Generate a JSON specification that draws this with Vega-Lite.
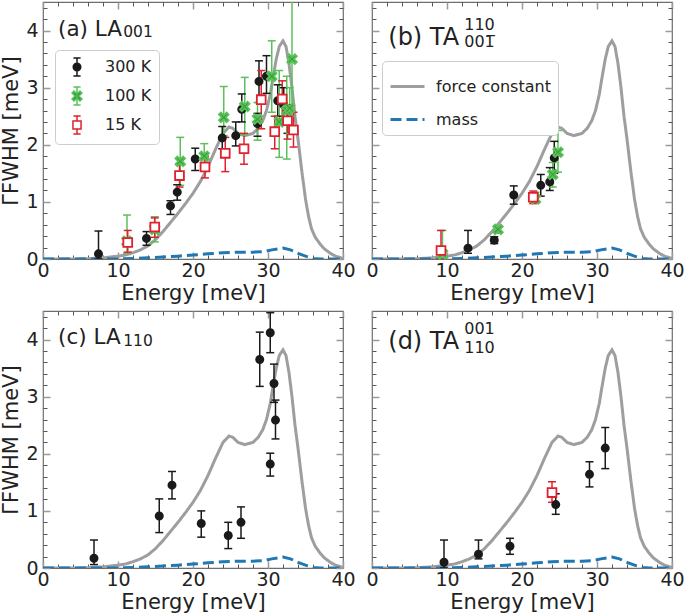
{
  "$schema": "https://vega.github.io/schema/vega-lite/v6.json",
  "padding": {"left": 0, "top": 0, "right": 0, "bottom": 0},
  "columns": 2,
  "spacing": {"row": 52, "column": 29},
  "bounds": "flush",
  "config": {
    "font": "DejaVu Sans",
    "view": {"stroke": "#6e6e6e", "strokeWidth": 1.2},
    "axis": {"grid": false, "domain": false, "labelFont": "DejaVu Sans", "labelFontSize": 19, "labelColor": "#222222", "titleFont": "DejaVu Sans", "titleFontSize": 21, "titleFontWeight": "normal", "titleColor": "#222222", "labelFlush": false, "labelOverlap": false, "labelBound": false},
    "legend": {"labelFont": "DejaVu Sans", "labelColor": "#222222"}
  },
  "resolve": {
    "scale": {"color": "independent", "fill": "independent", "stroke": "independent", "shape": "independent", "strokeDash": "independent"},
    "legend": {"color": "independent", "fill": "independent", "stroke": "independent", "shape": "independent", "strokeDash": "independent"}
  },
  "datasets": {
    "curve": [
      {"E": 0, "G": 0.0, "model": "force constant"},
      {"E": 4, "G": 0.0, "model": "force constant"},
      {"E": 6, "G": 0.005, "model": "force constant"},
      {"E": 8, "G": 0.02, "model": "force constant"},
      {"E": 10, "G": 0.05, "model": "force constant"},
      {"E": 11, "G": 0.07, "model": "force constant"},
      {"E": 12, "G": 0.11, "model": "force constant"},
      {"E": 13, "G": 0.16, "model": "force constant"},
      {"E": 14, "G": 0.23, "model": "force constant"},
      {"E": 15, "G": 0.34, "model": "force constant"},
      {"E": 16, "G": 0.48, "model": "force constant"},
      {"E": 17, "G": 0.64, "model": "force constant"},
      {"E": 18, "G": 0.8, "model": "force constant"},
      {"E": 19, "G": 0.97, "model": "force constant"},
      {"E": 20, "G": 1.15, "model": "force constant"},
      {"E": 21, "G": 1.36, "model": "force constant"},
      {"E": 22, "G": 1.62, "model": "force constant"},
      {"E": 23, "G": 1.92, "model": "force constant"},
      {"E": 24, "G": 2.2, "model": "force constant"},
      {"E": 24.8, "G": 2.31, "model": "force constant"},
      {"E": 25.3, "G": 2.29, "model": "force constant"},
      {"E": 26, "G": 2.2, "model": "force constant"},
      {"E": 26.9, "G": 2.16, "model": "force constant"},
      {"E": 28, "G": 2.2, "model": "force constant"},
      {"E": 28.7, "G": 2.29, "model": "force constant"},
      {"E": 29.3, "G": 2.42, "model": "force constant"},
      {"E": 29.8, "G": 2.6, "model": "force constant"},
      {"E": 30.3, "G": 2.88, "model": "force constant"},
      {"E": 30.7, "G": 3.2, "model": "force constant"},
      {"E": 31.1, "G": 3.5, "model": "force constant"},
      {"E": 31.5, "G": 3.72, "model": "force constant"},
      {"E": 32, "G": 3.82, "model": "force constant"},
      {"E": 32.4, "G": 3.72, "model": "force constant"},
      {"E": 32.8, "G": 3.42, "model": "force constant"},
      {"E": 33.2, "G": 3.0, "model": "force constant"},
      {"E": 33.6, "G": 2.5, "model": "force constant"},
      {"E": 34, "G": 2.1, "model": "force constant"},
      {"E": 34.5, "G": 1.55, "model": "force constant"},
      {"E": 35, "G": 1.05, "model": "force constant"},
      {"E": 35.4, "G": 0.75, "model": "force constant"},
      {"E": 35.8, "G": 0.53, "model": "force constant"},
      {"E": 36.3, "G": 0.38, "model": "force constant"},
      {"E": 36.9, "G": 0.27, "model": "force constant"},
      {"E": 37.5, "G": 0.18, "model": "force constant"},
      {"E": 38.3, "G": 0.1, "model": "force constant"},
      {"E": 39, "G": 0.05, "model": "force constant"},
      {"E": 40, "G": 0.01, "model": "force constant"},
      {"E": 0, "G": 0.0, "model": "mass"},
      {"E": 10, "G": 0.0, "model": "mass"},
      {"E": 12, "G": 0.01, "model": "mass"},
      {"E": 14, "G": 0.02, "model": "mass"},
      {"E": 16, "G": 0.035, "model": "mass"},
      {"E": 18, "G": 0.05, "model": "mass"},
      {"E": 20, "G": 0.07, "model": "mass"},
      {"E": 22, "G": 0.09, "model": "mass"},
      {"E": 24, "G": 0.11, "model": "mass"},
      {"E": 26, "G": 0.12, "model": "mass"},
      {"E": 28, "G": 0.12, "model": "mass"},
      {"E": 29.5, "G": 0.13, "model": "mass"},
      {"E": 30.5, "G": 0.16, "model": "mass"},
      {"E": 32, "G": 0.19, "model": "mass"},
      {"E": 33, "G": 0.16, "model": "mass"},
      {"E": 34, "G": 0.1, "model": "mass"},
      {"E": 35, "G": 0.05, "model": "mass"},
      {"E": 36, "G": 0.01, "model": "mass"},
      {"E": 37, "G": 0.0, "model": "mass"},
      {"E": 40, "G": 0.0, "model": "mass"}
    ],
    "ptsA": [
      {"E": 7.4, "G": 0.09, "lo": 0.0, "hi": 0.49, "T": "300 K"},
      {"E": 13.8, "G": 0.36, "lo": 0.24, "hi": 0.48, "T": "300 K"},
      {"E": 17.0, "G": 0.93, "lo": 0.78, "hi": 1.02, "T": "300 K"},
      {"E": 17.9, "G": 1.17, "lo": 1.03, "hi": 1.3, "T": "300 K"},
      {"E": 20.3, "G": 1.75, "lo": 1.55, "hi": 1.94, "T": "300 K"},
      {"E": 23.9, "G": 2.12, "lo": 1.93, "hi": 2.32, "T": "300 K"},
      {"E": 25.7, "G": 2.16, "lo": 1.98, "hi": 2.4, "T": "300 K"},
      {"E": 26.5, "G": 2.62, "lo": 2.4, "hi": 2.89, "T": "300 K"},
      {"E": 28.6, "G": 2.37, "lo": 2.15, "hi": 2.55, "T": "300 K"},
      {"E": 28.8, "G": 3.11, "lo": 2.74, "hi": 3.47, "T": "300 K"},
      {"E": 29.8, "G": 3.2, "lo": 2.9, "hi": 3.56, "T": "300 K"},
      {"E": 31.3, "G": 2.77, "lo": 2.5, "hi": 3.05, "T": "300 K"},
      {"E": 32.1, "G": 2.7, "lo": 2.4, "hi": 3.0, "T": "300 K"},
      {"E": 32.6, "G": 2.42, "lo": 2.2, "hi": 2.7, "T": "300 K"},
      {"E": 11.2, "G": 0.31, "lo": 0.1, "hi": 0.77, "T": "100 K"},
      {"E": 14.9, "G": 0.52, "lo": 0.3, "hi": 0.74, "T": "100 K"},
      {"E": 18.3, "G": 1.71, "lo": 1.29, "hi": 2.13, "T": "100 K"},
      {"E": 21.5, "G": 1.8, "lo": 1.58, "hi": 2.02, "T": "100 K"},
      {"E": 24.1, "G": 2.48, "lo": 2.16, "hi": 3.02, "T": "100 K"},
      {"E": 26.9, "G": 2.67, "lo": 2.17, "hi": 3.18, "T": "100 K"},
      {"E": 28.6, "G": 2.45, "lo": 2.08, "hi": 2.74, "T": "100 K"},
      {"E": 30.5, "G": 3.2, "lo": 2.57, "hi": 3.82, "T": "100 K"},
      {"E": 31.5, "G": 2.4, "lo": 1.78, "hi": 3.3, "T": "100 K"},
      {"E": 32.5, "G": 2.6, "lo": 1.75, "hi": 3.2, "T": "100 K"},
      {"E": 32.9, "G": 2.64, "lo": 2.2, "hi": 3.0, "T": "100 K"},
      {"E": 33.2, "G": 3.5, "lo": 2.5, "hi": 4.8, "T": "100 K"},
      {"E": 11.3, "G": 0.29, "lo": 0.12, "hi": 0.5, "T": "15 K"},
      {"E": 14.9, "G": 0.56, "lo": 0.38, "hi": 0.72, "T": "15 K"},
      {"E": 18.2, "G": 1.46, "lo": 1.26, "hi": 1.67, "T": "15 K"},
      {"E": 21.6, "G": 1.61, "lo": 1.42, "hi": 1.8, "T": "15 K"},
      {"E": 24.3, "G": 1.85, "lo": 1.53, "hi": 2.13, "T": "15 K"},
      {"E": 26.8, "G": 1.93, "lo": 1.66, "hi": 2.2, "T": "15 K"},
      {"E": 29.1, "G": 2.79, "lo": 2.28, "hi": 3.3, "T": "15 K"},
      {"E": 30.9, "G": 2.23, "lo": 1.93, "hi": 2.5, "T": "15 K"},
      {"E": 31.9, "G": 2.8, "lo": 2.45, "hi": 3.12, "T": "15 K"},
      {"E": 32.6, "G": 2.42, "lo": 2.1, "hi": 2.7, "T": "15 K"},
      {"E": 33.4, "G": 2.26, "lo": 1.96, "hi": 2.57, "T": "15 K"}
    ],
    "ptsB": [
      {"E": 12.8, "G": 0.19, "lo": 0.1, "hi": 0.5, "T": "300 K"},
      {"E": 16.3, "G": 0.33, "lo": 0.27, "hi": 0.39, "T": "300 K"},
      {"E": 18.9, "G": 1.12, "lo": 0.96, "hi": 1.28, "T": "300 K"},
      {"E": 22.5, "G": 1.29, "lo": 1.1, "hi": 1.48, "T": "300 K"},
      {"E": 23.7, "G": 1.35, "lo": 1.2, "hi": 1.6, "T": "300 K"},
      {"E": 24.3, "G": 1.77, "lo": 1.5, "hi": 2.06, "T": "300 K"},
      {"E": 9.4, "G": 0.09, "lo": 0.0, "hi": 0.5, "T": "100 K"},
      {"E": 16.8, "G": 0.52, "lo": 0.45, "hi": 0.58, "T": "100 K"},
      {"E": 21.8, "G": 1.05, "lo": 0.98, "hi": 1.17, "T": "100 K"},
      {"E": 24.1, "G": 1.48, "lo": 1.26, "hi": 1.69, "T": "100 K"},
      {"E": 24.8, "G": 1.87, "lo": 1.52, "hi": 2.25, "T": "100 K"},
      {"E": 9.2, "G": 0.15, "lo": 0.0, "hi": 0.5, "T": "15 K"},
      {"E": 21.5, "G": 1.08, "lo": 0.97, "hi": 1.19, "T": "15 K"}
    ],
    "ptsC": [
      {"E": 6.8, "G": 0.17, "lo": 0.06, "hi": 0.49, "T": "300 K"},
      {"E": 15.5, "G": 0.91, "lo": 0.62, "hi": 1.21, "T": "300 K"},
      {"E": 17.2, "G": 1.45, "lo": 1.21, "hi": 1.69, "T": "300 K"},
      {"E": 21.1, "G": 0.78, "lo": 0.54, "hi": 1.0, "T": "300 K"},
      {"E": 24.7, "G": 0.57, "lo": 0.34, "hi": 0.8, "T": "300 K"},
      {"E": 26.4, "G": 0.8, "lo": 0.52, "hi": 1.07, "T": "300 K"},
      {"E": 28.9, "G": 3.65, "lo": 3.18, "hi": 4.13, "T": "300 K"},
      {"E": 30.3, "G": 4.12, "lo": 3.77, "hi": 4.47, "T": "300 K"},
      {"E": 30.3, "G": 1.82, "lo": 1.61, "hi": 2.01, "T": "300 K"},
      {"E": 30.8, "G": 3.23, "lo": 2.9, "hi": 3.57, "T": "300 K"},
      {"E": 31.0, "G": 2.59, "lo": 2.26, "hi": 2.94, "T": "300 K"}
    ],
    "ptsD": [
      {"E": 9.6, "G": 0.1, "lo": 0.0, "hi": 0.49, "T": "300 K"},
      {"E": 14.2, "G": 0.24, "lo": 0.16, "hi": 0.49, "T": "300 K"},
      {"E": 18.4, "G": 0.38, "lo": 0.24, "hi": 0.52, "T": "300 K"},
      {"E": 24.5, "G": 1.11, "lo": 0.94, "hi": 1.3, "T": "300 K"},
      {"E": 29.0, "G": 1.64, "lo": 1.42, "hi": 1.86, "T": "300 K"},
      {"E": 31.1, "G": 2.1, "lo": 1.74, "hi": 2.46, "T": "300 K"},
      {"E": 24.0, "G": 1.32, "lo": 1.15, "hi": 1.51, "T": "15 K"}
    ]
  },
  "concat": [
    {
      "width": 300, "height": 257,
      "resolve": {"axis": {"x": "independent", "y": "independent"}, "scale": {"color": "independent", "fill": "independent", "stroke": "independent", "shape": "independent"}},
      "layer": [
        {
          "data": {"name": "curve"},
          "mark": {"type": "line", "strokeWidth": 3, "clip": true},
          "encoding": {
            "x": {"field": "E", "type": "quantitative", "scale": {"domain": [0, 40], "nice": false}, "axis": {"orient": "bottom", "values": [0, 10, 20, 30, 40], "tickSize": -7, "tickWidth": 1.5, "tickColor": "#9a9a9a", "labelPadding": 9, "title": "Energy [meV]", "titlePadding": 2}},
            "y": {"field": "G", "type": "quantitative", "scale": {"domain": [0, 4.5], "nice": false}, "axis": {"orient": "left", "values": [0, 1, 2, 3, 4], "tickSize": -7, "tickWidth": 1.5, "tickColor": "#9a9a9a", "labelPadding": 12, "title": "ΓFWHM [meV]", "titlePadding": 4}},
            "color": {"field": "model", "type": "nominal", "scale": {"domain": ["force constant", "mass"], "range": ["#9e9e9e", "#1f77b4"]}, "legend": null},
            "strokeDash": {"field": "model", "type": "nominal", "scale": {"domain": ["force constant", "mass"], "range": [[1, 0], [11, 5]]}, "legend": null}
          }
        },
        {
          "data": {"name": "ptsA"},
          "transform": [{"filter": "datum.E < 0"}],
          "mark": {"type": "point", "filled": true, "opacity": 1, "size": 324, "strokeWidth": 1.5},
          "encoding": {
            "x": {"field": "E", "type": "quantitative", "scale": {"domain": [0, 40], "nice": false}, "axis": null},
            "y": {"field": "G", "type": "quantitative", "scale": {"domain": [0, 4.5], "nice": false}, "axis": null},
            "fill": {"field": "T", "type": "nominal", "scale": {"domain": ["300 K", "100 K", "15 K"], "range": ["#1a1a1a", "#2ca02c", "#ffffff"]},
              "legend": {"title": null, "orient": "none", "legendX": 12, "legendY": 48, "direction": "vertical", "padding": 7, "strokeColor": "#cccccc", "fillColor": "#ffffff", "cornerRadius": 4, "labelFontSize": 16, "labelOffset": 18, "rowPadding": 5, "symbolOffset": 5, "symbolSize": 324, "symbolStrokeWidth": 1.5}},
            "stroke": {"field": "T", "type": "nominal", "scale": {"domain": ["300 K", "100 K", "15 K"], "range": ["#1a1a1a", "#5cc05c", "#e0202e"]},
              "legend": {"title": null, "orient": "none", "legendX": 12, "legendY": 48, "direction": "vertical", "padding": 7, "strokeColor": "#cccccc", "fillColor": "#ffffff", "cornerRadius": 4, "labelFontSize": 16, "labelOffset": 18, "rowPadding": 5, "symbolOffset": 5, "symbolSize": 324, "symbolStrokeWidth": 1.5}},
            "shape": {"field": "T", "type": "nominal", "scale": {"domain": ["300 K", "100 K", "15 K"], "range": ["M0,-1L0,1M-0.4,-1L0.4,-1M-0.4,1L0.4,1M0.42,0A0.42,0.42,0,1,1,-0.42,0A0.42,0.42,0,1,1,0.42,0Z", "M0,-1L0,1M-0.4,-1L0.4,-1M-0.4,1L0.4,1M-0.55,-0.33L-0.33,-0.55L0,-0.22L0.33,-0.55L0.55,-0.33L0.22,0L0.55,0.33L0.33,0.55L0,0.22L-0.33,0.55L-0.55,0.33L-0.22,0Z", "M0,-1L0,-0.45M0,0.45L0,1M-0.4,-1L0.4,-1M-0.4,1L0.4,1M-0.45,-0.45L0.45,-0.45L0.45,0.45L-0.45,0.45Z"]},
              "legend": {"title": null, "orient": "none", "legendX": 12, "legendY": 48, "direction": "vertical", "padding": 7, "strokeColor": "#cccccc", "fillColor": "#ffffff", "cornerRadius": 4, "labelFontSize": 16, "labelOffset": 18, "rowPadding": 5, "symbolOffset": 5, "symbolSize": 324, "symbolStrokeWidth": 1.5}}
          }
        },
        {
          "data": {"name": "ptsA"},
          "mark": {"type": "rule", "strokeWidth": 1.5, "clip": true},
          "encoding": {
            "x": {"field": "E", "type": "quantitative", "scale": {"domain": [0, 40], "nice": false}, "axis": null},
            "y": {"field": "lo", "type": "quantitative", "scale": {"domain": [0, 4.5], "nice": false}, "axis": null},
            "y2": {"field": "hi"},
            "color": {"field": "T", "type": "nominal", "scale": {"domain": ["300 K", "100 K", "15 K"], "range": ["#1a1a1a", "#5cc05c", "#e0202e"]}, "legend": null}
          }
        },
        {
          "data": {"name": "ptsA"},
          "mark": {"type": "point", "shape": "stroke", "size": 64, "filled": false, "opacity": 1, "strokeWidth": 1.5, "clip": true},
          "encoding": {
            "x": {"field": "E", "type": "quantitative", "scale": {"domain": [0, 40], "nice": false}, "axis": null},
            "y": {"field": "lo", "type": "quantitative", "scale": {"domain": [0, 4.5], "nice": false}, "axis": null},
            "color": {"field": "T", "type": "nominal", "scale": {"domain": ["300 K", "100 K", "15 K"], "range": ["#1a1a1a", "#5cc05c", "#e0202e"]}, "legend": null}
          }
        },
        {
          "data": {"name": "ptsA"},
          "mark": {"type": "point", "shape": "stroke", "size": 64, "filled": false, "opacity": 1, "strokeWidth": 1.5, "clip": true},
          "encoding": {
            "x": {"field": "E", "type": "quantitative", "scale": {"domain": [0, 40], "nice": false}, "axis": null},
            "y": {"field": "hi", "type": "quantitative", "scale": {"domain": [0, 4.5], "nice": false}, "axis": null},
            "color": {"field": "T", "type": "nominal", "scale": {"domain": ["300 K", "100 K", "15 K"], "range": ["#1a1a1a", "#5cc05c", "#e0202e"]}, "legend": null}
          }
        },
        {
          "data": {"name": "ptsA"},
          "mark": {"type": "point", "filled": true, "opacity": 1, "size": 64, "strokeWidth": 1.8},
          "encoding": {
            "x": {"field": "E", "type": "quantitative", "scale": {"domain": [0, 40], "nice": false}, "axis": {"orient": "bottom", "values": [2, 4, 6, 8, 12, 14, 16, 18, 22, 24, 26, 28, 32, 34, 36, 38], "tickSize": -4, "tickColor": "#555555", "tickWidth": 1, "labels": false, "title": null}},
            "y": {"field": "G", "type": "quantitative", "scale": {"domain": [0, 4.5], "nice": false}, "axis": {"orient": "left", "values": [0.2, 0.4, 0.6, 0.8, 1.2, 1.4, 1.6, 1.8, 2.2, 2.4, 2.6, 2.8, 3.2, 3.4, 3.6, 3.8, 4.2, 4.4], "tickSize": -4, "tickColor": "#555555", "tickWidth": 1, "labels": false, "title": null}},
            "fill": {"field": "T", "type": "nominal", "scale": {"domain": ["300 K", "100 K", "15 K"], "range": ["#1a1a1a", "#2ca02c", "#ffffff"]}, "legend": null},
            "stroke": {"field": "T", "type": "nominal", "scale": {"domain": ["300 K", "100 K", "15 K"], "range": ["#1a1a1a", "#5cc05c", "#e0202e"]}, "legend": null},
            "shape": {"field": "T", "type": "nominal", "scale": {"domain": ["300 K", "100 K", "15 K"], "range": ["M0.9,0A0.9,0.9,0,1,1,-0.9,0A0.9,0.9,0,1,1,0.9,0Z", "M-1.2,-0.72L-0.72,-1.2L0,-0.48L0.72,-1.2L1.2,-0.72L0.48,0L1.2,0.72L0.72,1.2L0,0.48L-0.72,1.2L-1.2,0.72L-0.48,0Z", "M-1.1,-1.1L1.1,-1.1L1.1,1.1L-1.1,1.1Z"]}, "legend": null}
          }
        },
        {
          "data": {"values": [{"E": 2.0, "G": 3.91, "t": "(a) LA"}]},
          "mark": {"type": "text", "align": "left", "baseline": "alphabetic", "fontSize": 21.5, "color": "#222222"},
          "encoding": {
            "x": {"field": "E", "type": "quantitative", "scale": {"domain": [0, 40], "nice": false}, "axis": {"orient": "top", "values": [0, 10, 20, 30, 40], "tickSize": -7, "tickWidth": 1.5, "tickColor": "#9a9a9a", "labels": false, "title": null}},
            "y": {"field": "G", "type": "quantitative", "scale": {"domain": [0, 4.5], "nice": false}, "axis": {"orient": "right", "values": [0, 1, 2, 3, 4], "tickSize": -7, "tickWidth": 1.5, "tickColor": "#9a9a9a", "labels": false, "title": null}},
            "text": {"field": "t"}
          }
        },
        {
          "data": {"values": [{"E": 10.7, "G": 3.88, "t": "001"}]},
          "mark": {"type": "text", "align": "left", "baseline": "alphabetic", "fontSize": 15.5, "color": "#222222"},
          "encoding": {
            "x": {"field": "E", "type": "quantitative", "scale": {"domain": [0, 40], "nice": false}, "axis": {"orient": "top", "values": [2, 4, 6, 8, 12, 14, 16, 18, 22, 24, 26, 28, 32, 34, 36, 38], "tickSize": -4, "tickColor": "#555555", "tickWidth": 1, "labels": false, "title": null}},
            "y": {"field": "G", "type": "quantitative", "scale": {"domain": [0, 4.5], "nice": false}, "axis": {"orient": "right", "values": [0.2, 0.4, 0.6, 0.8, 1.2, 1.4, 1.6, 1.8, 2.2, 2.4, 2.6, 2.8, 3.2, 3.4, 3.6, 3.8, 4.2, 4.4], "tickSize": -4, "tickColor": "#555555", "tickWidth": 1, "labels": false, "title": null}},
            "text": {"field": "t"}
          }
        }
      ]
    },
    {
      "width": 300, "height": 257,
      "resolve": {"axis": {"x": "independent", "y": "independent"}},
      "layer": [
        {
          "data": {"name": "curve"},
          "mark": {"type": "line", "strokeWidth": 3, "clip": true},
          "encoding": {
            "x": {"field": "E", "type": "quantitative", "scale": {"domain": [0, 40], "nice": false}, "axis": {"orient": "bottom", "values": [0, 10, 20, 30, 40], "tickSize": -7, "tickWidth": 1.5, "tickColor": "#9a9a9a", "labelPadding": 9, "title": "Energy [meV]", "titlePadding": 2}},
            "y": {"field": "G", "type": "quantitative", "scale": {"domain": [0, 4.5], "nice": false}, "axis": {"orient": "left", "values": [0, 1, 2, 3, 4], "tickSize": -7, "tickWidth": 1.5, "tickColor": "#9a9a9a", "labels": false, "title": null}},
            "color": {"field": "model", "type": "nominal", "scale": {"domain": ["force constant", "mass"], "range": ["#9e9e9e", "#1f77b4"]},
              "legend": {"title": null, "orient": "none", "legendX": 10, "legendY": 59, "padding": 7, "strokeColor": "#cccccc", "fillColor": "#ffffff", "cornerRadius": 4, "labelFontSize": 16, "symbolType": "stroke", "symbolSize": 1156, "symbolStrokeWidth": 3, "labelOffset": 10, "rowPadding": 6}},
            "strokeDash": {"field": "model", "type": "nominal", "scale": {"domain": ["force constant", "mass"], "range": [[1, 0], [11, 5]]},
              "legend": {"title": null, "orient": "none", "legendX": 10, "legendY": 59, "padding": 7, "strokeColor": "#cccccc", "fillColor": "#ffffff", "cornerRadius": 4, "labelFontSize": 16, "symbolType": "stroke", "symbolSize": 1156, "symbolStrokeWidth": 3, "labelOffset": 10, "rowPadding": 6}}
          }
        },
        {
          "data": {"name": "ptsB"},
          "mark": {"type": "rule", "strokeWidth": 1.5, "clip": true},
          "encoding": {
            "x": {"field": "E", "type": "quantitative", "scale": {"domain": [0, 40], "nice": false}, "axis": null},
            "y": {"field": "lo", "type": "quantitative", "scale": {"domain": [0, 4.5], "nice": false}, "axis": null},
            "y2": {"field": "hi"},
            "stroke": {"field": "T", "type": "nominal", "scale": {"domain": ["300 K", "100 K", "15 K"], "range": ["#1a1a1a", "#5cc05c", "#e0202e"]}, "legend": null}
          }
        },
        {
          "data": {"name": "ptsB"},
          "mark": {"type": "point", "shape": "stroke", "size": 64, "filled": false, "opacity": 1, "strokeWidth": 1.5, "clip": true},
          "encoding": {
            "x": {"field": "E", "type": "quantitative", "scale": {"domain": [0, 40], "nice": false}, "axis": null},
            "y": {"field": "lo", "type": "quantitative", "scale": {"domain": [0, 4.5], "nice": false}, "axis": null},
            "stroke": {"field": "T", "type": "nominal", "scale": {"domain": ["300 K", "100 K", "15 K"], "range": ["#1a1a1a", "#5cc05c", "#e0202e"]}, "legend": null}
          }
        },
        {
          "data": {"name": "ptsB"},
          "mark": {"type": "point", "shape": "stroke", "size": 64, "filled": false, "opacity": 1, "strokeWidth": 1.5, "clip": true},
          "encoding": {
            "x": {"field": "E", "type": "quantitative", "scale": {"domain": [0, 40], "nice": false}, "axis": null},
            "y": {"field": "hi", "type": "quantitative", "scale": {"domain": [0, 4.5], "nice": false}, "axis": null},
            "stroke": {"field": "T", "type": "nominal", "scale": {"domain": ["300 K", "100 K", "15 K"], "range": ["#1a1a1a", "#5cc05c", "#e0202e"]}, "legend": null}
          }
        },
        {
          "data": {"name": "ptsB"},
          "mark": {"type": "point", "filled": true, "opacity": 1, "size": 64, "strokeWidth": 1.8},
          "encoding": {
            "x": {"field": "E", "type": "quantitative", "scale": {"domain": [0, 40], "nice": false}, "axis": {"orient": "bottom", "values": [2, 4, 6, 8, 12, 14, 16, 18, 22, 24, 26, 28, 32, 34, 36, 38], "tickSize": -4, "tickColor": "#555555", "tickWidth": 1, "labels": false, "title": null}},
            "y": {"field": "G", "type": "quantitative", "scale": {"domain": [0, 4.5], "nice": false}, "axis": {"orient": "left", "values": [0.2, 0.4, 0.6, 0.8, 1.2, 1.4, 1.6, 1.8, 2.2, 2.4, 2.6, 2.8, 3.2, 3.4, 3.6, 3.8, 4.2, 4.4], "tickSize": -4, "tickColor": "#555555", "tickWidth": 1, "labels": false, "title": null}},
            "fill": {"field": "T", "type": "nominal", "scale": {"domain": ["300 K", "100 K", "15 K"], "range": ["#1a1a1a", "#2ca02c", "#ffffff"]}, "legend": null},
            "stroke": {"field": "T", "type": "nominal", "scale": {"domain": ["300 K", "100 K", "15 K"], "range": ["#1a1a1a", "#5cc05c", "#e0202e"]}, "legend": null},
            "shape": {"field": "T", "type": "nominal", "scale": {"domain": ["300 K", "100 K", "15 K"], "range": ["M0.9,0A0.9,0.9,0,1,1,-0.9,0A0.9,0.9,0,1,1,0.9,0Z", "M-1.2,-0.72L-0.72,-1.2L0,-0.48L0.72,-1.2L1.2,-0.72L0.48,0L1.2,0.72L0.72,1.2L0,0.48L-0.72,1.2L-1.2,0.72L-0.48,0Z", "M-1.1,-1.1L1.1,-1.1L1.1,1.1L-1.1,1.1Z"]}, "legend": null}
          }
        },
        {
          "data": {"values": [{"E": 2.17, "G": 3.74, "t": "(b) TA"}]},
          "mark": {"type": "text", "align": "left", "baseline": "alphabetic", "fontSize": 24, "color": "#222222"},
          "encoding": {
            "x": {"field": "E", "type": "quantitative", "scale": {"domain": [0, 40], "nice": false}, "axis": {"orient": "top", "values": [0, 10, 20, 30, 40], "tickSize": -7, "tickWidth": 1.5, "tickColor": "#9a9a9a", "labels": false, "title": null}},
            "y": {"field": "G", "type": "quantitative", "scale": {"domain": [0, 4.5], "nice": false}, "axis": {"orient": "right", "values": [0, 1, 2, 3, 4], "tickSize": -7, "tickWidth": 1.5, "tickColor": "#9a9a9a", "labels": false, "title": null}},
            "text": {"field": "t"}
          }
        },
        {
          "data": {"values": [{"E": 12.3, "G": 4.01, "t": "110"}, {"E": 12.3, "G": 3.71, "t": "001̅"}]},
          "mark": {"type": "text", "align": "left", "baseline": "alphabetic", "fontSize": 16, "color": "#222222"},
          "encoding": {
            "x": {"field": "E", "type": "quantitative", "scale": {"domain": [0, 40], "nice": false}, "axis": {"orient": "top", "values": [2, 4, 6, 8, 12, 14, 16, 18, 22, 24, 26, 28, 32, 34, 36, 38], "tickSize": -4, "tickColor": "#555555", "tickWidth": 1, "labels": false, "title": null}},
            "y": {"field": "G", "type": "quantitative", "scale": {"domain": [0, 4.5], "nice": false}, "axis": {"orient": "right", "values": [0.2, 0.4, 0.6, 0.8, 1.2, 1.4, 1.6, 1.8, 2.2, 2.4, 2.6, 2.8, 3.2, 3.4, 3.6, 3.8, 4.2, 4.4], "tickSize": -4, "tickColor": "#555555", "tickWidth": 1, "labels": false, "title": null}},
            "text": {"field": "t"}
          }
        }
      ]
    },
    {
      "width": 300, "height": 257,
      "resolve": {"axis": {"x": "independent", "y": "independent"}},
      "layer": [
        {
          "data": {"name": "curve"},
          "mark": {"type": "line", "strokeWidth": 3, "clip": true},
          "encoding": {
            "x": {"field": "E", "type": "quantitative", "scale": {"domain": [0, 40], "nice": false}, "axis": {"orient": "bottom", "values": [0, 10, 20, 30, 40], "tickSize": -7, "tickWidth": 1.5, "tickColor": "#9a9a9a", "labelPadding": 9, "title": "Energy [meV]", "titlePadding": 2}},
            "y": {"field": "G", "type": "quantitative", "scale": {"domain": [0, 4.5], "nice": false}, "axis": {"orient": "left", "values": [0, 1, 2, 3, 4], "tickSize": -7, "tickWidth": 1.5, "tickColor": "#9a9a9a", "labelPadding": 12, "title": "ΓFWHM [meV]", "titlePadding": 4}},
            "color": {"field": "model", "type": "nominal", "scale": {"domain": ["force constant", "mass"], "range": ["#9e9e9e", "#1f77b4"]}, "legend": null},
            "strokeDash": {"field": "model", "type": "nominal", "scale": {"domain": ["force constant", "mass"], "range": [[1, 0], [11, 5]]}, "legend": null}
          }
        },
        {
          "data": {"name": "ptsC"},
          "mark": {"type": "rule", "strokeWidth": 1.5, "clip": true},
          "encoding": {
            "x": {"field": "E", "type": "quantitative", "scale": {"domain": [0, 40], "nice": false}, "axis": null},
            "y": {"field": "lo", "type": "quantitative", "scale": {"domain": [0, 4.5], "nice": false}, "axis": null},
            "y2": {"field": "hi"},
            "stroke": {"field": "T", "type": "nominal", "scale": {"domain": ["300 K", "100 K", "15 K"], "range": ["#1a1a1a", "#5cc05c", "#e0202e"]}, "legend": null}
          }
        },
        {
          "data": {"name": "ptsC"},
          "mark": {"type": "point", "shape": "stroke", "size": 64, "filled": false, "opacity": 1, "strokeWidth": 1.5, "clip": true},
          "encoding": {
            "x": {"field": "E", "type": "quantitative", "scale": {"domain": [0, 40], "nice": false}, "axis": null},
            "y": {"field": "lo", "type": "quantitative", "scale": {"domain": [0, 4.5], "nice": false}, "axis": null},
            "stroke": {"field": "T", "type": "nominal", "scale": {"domain": ["300 K", "100 K", "15 K"], "range": ["#1a1a1a", "#5cc05c", "#e0202e"]}, "legend": null}
          }
        },
        {
          "data": {"name": "ptsC"},
          "mark": {"type": "point", "shape": "stroke", "size": 64, "filled": false, "opacity": 1, "strokeWidth": 1.5, "clip": true},
          "encoding": {
            "x": {"field": "E", "type": "quantitative", "scale": {"domain": [0, 40], "nice": false}, "axis": null},
            "y": {"field": "hi", "type": "quantitative", "scale": {"domain": [0, 4.5], "nice": false}, "axis": null},
            "stroke": {"field": "T", "type": "nominal", "scale": {"domain": ["300 K", "100 K", "15 K"], "range": ["#1a1a1a", "#5cc05c", "#e0202e"]}, "legend": null}
          }
        },
        {
          "data": {"name": "ptsC"},
          "mark": {"type": "point", "filled": true, "opacity": 1, "size": 64, "strokeWidth": 1.8},
          "encoding": {
            "x": {"field": "E", "type": "quantitative", "scale": {"domain": [0, 40], "nice": false}, "axis": {"orient": "bottom", "values": [2, 4, 6, 8, 12, 14, 16, 18, 22, 24, 26, 28, 32, 34, 36, 38], "tickSize": -4, "tickColor": "#555555", "tickWidth": 1, "labels": false, "title": null}},
            "y": {"field": "G", "type": "quantitative", "scale": {"domain": [0, 4.5], "nice": false}, "axis": {"orient": "left", "values": [0.2, 0.4, 0.6, 0.8, 1.2, 1.4, 1.6, 1.8, 2.2, 2.4, 2.6, 2.8, 3.2, 3.4, 3.6, 3.8, 4.2, 4.4], "tickSize": -4, "tickColor": "#555555", "tickWidth": 1, "labels": false, "title": null}},
            "fill": {"field": "T", "type": "nominal", "scale": {"domain": ["300 K", "100 K", "15 K"], "range": ["#1a1a1a", "#2ca02c", "#ffffff"]}, "legend": null},
            "stroke": {"field": "T", "type": "nominal", "scale": {"domain": ["300 K", "100 K", "15 K"], "range": ["#1a1a1a", "#5cc05c", "#e0202e"]}, "legend": null},
            "shape": {"field": "T", "type": "nominal", "scale": {"domain": ["300 K", "100 K", "15 K"], "range": ["M0.9,0A0.9,0.9,0,1,1,-0.9,0A0.9,0.9,0,1,1,0.9,0Z", "M-1.2,-0.72L-0.72,-1.2L0,-0.48L0.72,-1.2L1.2,-0.72L0.48,0L1.2,0.72L0.72,1.2L0,0.48L-0.72,1.2L-1.2,0.72L-0.48,0Z", "M-1.1,-1.1L1.1,-1.1L1.1,1.1L-1.1,1.1Z"]}, "legend": null}
          }
        },
        {
          "data": {"values": [{"E": 2.0, "G": 3.92, "t": "(c) LA"}]},
          "mark": {"type": "text", "align": "left", "baseline": "alphabetic", "fontSize": 21.5, "color": "#222222"},
          "encoding": {
            "x": {"field": "E", "type": "quantitative", "scale": {"domain": [0, 40], "nice": false}, "axis": {"orient": "top", "values": [0, 10, 20, 30, 40], "tickSize": -7, "tickWidth": 1.5, "tickColor": "#9a9a9a", "labels": false, "title": null}},
            "y": {"field": "G", "type": "quantitative", "scale": {"domain": [0, 4.5], "nice": false}, "axis": {"orient": "right", "values": [0, 1, 2, 3, 4], "tickSize": -7, "tickWidth": 1.5, "tickColor": "#9a9a9a", "labels": false, "title": null}},
            "text": {"field": "t"}
          }
        },
        {
          "data": {"values": [{"E": 10.7, "G": 3.89, "t": "110"}]},
          "mark": {"type": "text", "align": "left", "baseline": "alphabetic", "fontSize": 15.5, "color": "#222222"},
          "encoding": {
            "x": {"field": "E", "type": "quantitative", "scale": {"domain": [0, 40], "nice": false}, "axis": {"orient": "top", "values": [2, 4, 6, 8, 12, 14, 16, 18, 22, 24, 26, 28, 32, 34, 36, 38], "tickSize": -4, "tickColor": "#555555", "tickWidth": 1, "labels": false, "title": null}},
            "y": {"field": "G", "type": "quantitative", "scale": {"domain": [0, 4.5], "nice": false}, "axis": {"orient": "right", "values": [0.2, 0.4, 0.6, 0.8, 1.2, 1.4, 1.6, 1.8, 2.2, 2.4, 2.6, 2.8, 3.2, 3.4, 3.6, 3.8, 4.2, 4.4], "tickSize": -4, "tickColor": "#555555", "tickWidth": 1, "labels": false, "title": null}},
            "text": {"field": "t"}
          }
        }
      ]
    },
    {
      "width": 300, "height": 257,
      "resolve": {"axis": {"x": "independent", "y": "independent"}},
      "layer": [
        {
          "data": {"name": "curve"},
          "mark": {"type": "line", "strokeWidth": 3, "clip": true},
          "encoding": {
            "x": {"field": "E", "type": "quantitative", "scale": {"domain": [0, 40], "nice": false}, "axis": {"orient": "bottom", "values": [0, 10, 20, 30, 40], "tickSize": -7, "tickWidth": 1.5, "tickColor": "#9a9a9a", "labelPadding": 9, "title": "Energy [meV]", "titlePadding": 2}},
            "y": {"field": "G", "type": "quantitative", "scale": {"domain": [0, 4.5], "nice": false}, "axis": {"orient": "left", "values": [0, 1, 2, 3, 4], "tickSize": -7, "tickWidth": 1.5, "tickColor": "#9a9a9a", "labels": false, "title": null}},
            "color": {"field": "model", "type": "nominal", "scale": {"domain": ["force constant", "mass"], "range": ["#9e9e9e", "#1f77b4"]}, "legend": null},
            "strokeDash": {"field": "model", "type": "nominal", "scale": {"domain": ["force constant", "mass"], "range": [[1, 0], [11, 5]]}, "legend": null}
          }
        },
        {
          "data": {"name": "ptsD"},
          "mark": {"type": "rule", "strokeWidth": 1.5, "clip": true},
          "encoding": {
            "x": {"field": "E", "type": "quantitative", "scale": {"domain": [0, 40], "nice": false}, "axis": null},
            "y": {"field": "lo", "type": "quantitative", "scale": {"domain": [0, 4.5], "nice": false}, "axis": null},
            "y2": {"field": "hi"},
            "stroke": {"field": "T", "type": "nominal", "scale": {"domain": ["300 K", "100 K", "15 K"], "range": ["#1a1a1a", "#5cc05c", "#e0202e"]}, "legend": null}
          }
        },
        {
          "data": {"name": "ptsD"},
          "mark": {"type": "point", "shape": "stroke", "size": 64, "filled": false, "opacity": 1, "strokeWidth": 1.5, "clip": true},
          "encoding": {
            "x": {"field": "E", "type": "quantitative", "scale": {"domain": [0, 40], "nice": false}, "axis": null},
            "y": {"field": "lo", "type": "quantitative", "scale": {"domain": [0, 4.5], "nice": false}, "axis": null},
            "stroke": {"field": "T", "type": "nominal", "scale": {"domain": ["300 K", "100 K", "15 K"], "range": ["#1a1a1a", "#5cc05c", "#e0202e"]}, "legend": null}
          }
        },
        {
          "data": {"name": "ptsD"},
          "mark": {"type": "point", "shape": "stroke", "size": 64, "filled": false, "opacity": 1, "strokeWidth": 1.5, "clip": true},
          "encoding": {
            "x": {"field": "E", "type": "quantitative", "scale": {"domain": [0, 40], "nice": false}, "axis": null},
            "y": {"field": "hi", "type": "quantitative", "scale": {"domain": [0, 4.5], "nice": false}, "axis": null},
            "stroke": {"field": "T", "type": "nominal", "scale": {"domain": ["300 K", "100 K", "15 K"], "range": ["#1a1a1a", "#5cc05c", "#e0202e"]}, "legend": null}
          }
        },
        {
          "data": {"name": "ptsD"},
          "mark": {"type": "point", "filled": true, "opacity": 1, "size": 64, "strokeWidth": 1.8},
          "encoding": {
            "x": {"field": "E", "type": "quantitative", "scale": {"domain": [0, 40], "nice": false}, "axis": {"orient": "bottom", "values": [2, 4, 6, 8, 12, 14, 16, 18, 22, 24, 26, 28, 32, 34, 36, 38], "tickSize": -4, "tickColor": "#555555", "tickWidth": 1, "labels": false, "title": null}},
            "y": {"field": "G", "type": "quantitative", "scale": {"domain": [0, 4.5], "nice": false}, "axis": {"orient": "left", "values": [0.2, 0.4, 0.6, 0.8, 1.2, 1.4, 1.6, 1.8, 2.2, 2.4, 2.6, 2.8, 3.2, 3.4, 3.6, 3.8, 4.2, 4.4], "tickSize": -4, "tickColor": "#555555", "tickWidth": 1, "labels": false, "title": null}},
            "fill": {"field": "T", "type": "nominal", "scale": {"domain": ["300 K", "100 K", "15 K"], "range": ["#1a1a1a", "#2ca02c", "#ffffff"]}, "legend": null},
            "stroke": {"field": "T", "type": "nominal", "scale": {"domain": ["300 K", "100 K", "15 K"], "range": ["#1a1a1a", "#5cc05c", "#e0202e"]}, "legend": null},
            "shape": {"field": "T", "type": "nominal", "scale": {"domain": ["300 K", "100 K", "15 K"], "range": ["M0.9,0A0.9,0.9,0,1,1,-0.9,0A0.9,0.9,0,1,1,0.9,0Z", "M-1.2,-0.72L-0.72,-1.2L0,-0.48L0.72,-1.2L1.2,-0.72L0.48,0L1.2,0.72L0.72,1.2L0,0.48L-0.72,1.2L-1.2,0.72L-0.48,0Z", "M-1.1,-1.1L1.1,-1.1L1.1,1.1L-1.1,1.1Z"]}, "legend": null}
          }
        },
        {
          "data": {"values": [{"E": 2.17, "G": 3.83, "t": "(d) TA"}]},
          "mark": {"type": "text", "align": "left", "baseline": "alphabetic", "fontSize": 24, "color": "#222222"},
          "encoding": {
            "x": {"field": "E", "type": "quantitative", "scale": {"domain": [0, 40], "nice": false}, "axis": {"orient": "top", "values": [0, 10, 20, 30, 40], "tickSize": -7, "tickWidth": 1.5, "tickColor": "#9a9a9a", "labels": false, "title": null}},
            "y": {"field": "G", "type": "quantitative", "scale": {"domain": [0, 4.5], "nice": false}, "axis": {"orient": "right", "values": [0, 1, 2, 3, 4], "tickSize": -7, "tickWidth": 1.5, "tickColor": "#9a9a9a", "labels": false, "title": null}},
            "text": {"field": "t"}
          }
        },
        {
          "data": {"values": [{"E": 12.3, "G": 4.09, "t": "001"}, {"E": 12.3, "G": 3.76, "t": "110"}]},
          "mark": {"type": "text", "align": "left", "baseline": "alphabetic", "fontSize": 16, "color": "#222222"},
          "encoding": {
            "x": {"field": "E", "type": "quantitative", "scale": {"domain": [0, 40], "nice": false}, "axis": {"orient": "top", "values": [2, 4, 6, 8, 12, 14, 16, 18, 22, 24, 26, 28, 32, 34, 36, 38], "tickSize": -4, "tickColor": "#555555", "tickWidth": 1, "labels": false, "title": null}},
            "y": {"field": "G", "type": "quantitative", "scale": {"domain": [0, 4.5], "nice": false}, "axis": {"orient": "right", "values": [0.2, 0.4, 0.6, 0.8, 1.2, 1.4, 1.6, 1.8, 2.2, 2.4, 2.6, 2.8, 3.2, 3.4, 3.6, 3.8, 4.2, 4.4], "tickSize": -4, "tickColor": "#555555", "tickWidth": 1, "labels": false, "title": null}},
            "text": {"field": "t"}
          }
        }
      ]
    }
  ]
}
